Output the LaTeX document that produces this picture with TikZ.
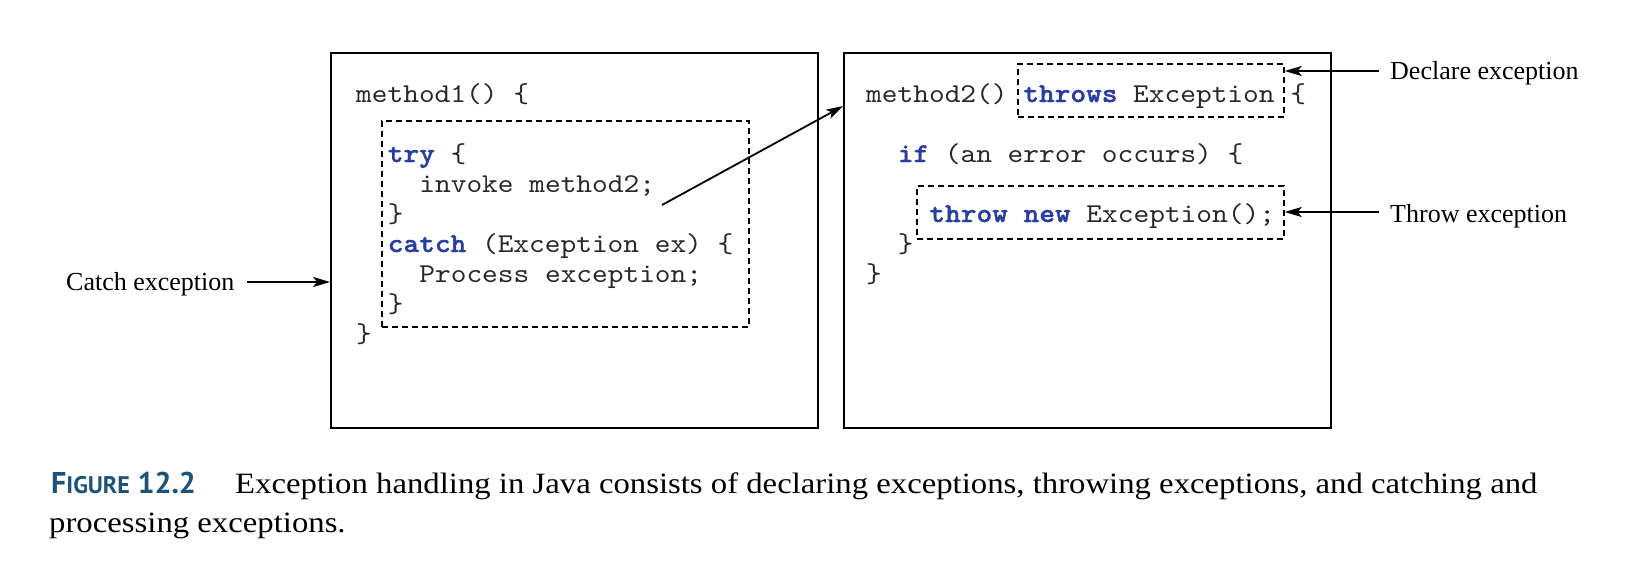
\documentclass[tikz,border=0pt]{standalone}
\usepackage{fontspec}
\setmainfont{Liberation Serif}
\setmonofont[Extension=.otf,FakeStretch=1.1,BoldFont=lmmonolt10-bold,BoldFeatures={FakeBold=1.3}]{lmmono10-regular}
\newfontfamily\capfont{PT Sans}
\newfontfamily\capserif[FakeStretch=1.11]{Liberation Serif}
\usetikzlibrary{arrows.meta}
\definecolor{kwblue}{RGB}{40,62,160}
\definecolor{codegray}{RGB}{40,40,40}
\definecolor{capblue}{RGB}{28,84,120}
\newcommand{\kw}[1]{{\bfseries\color{kwblue}#1}}
\begin{document}
\begin{tikzpicture}[x=1pt,y=-1pt,
  code/.style={anchor=base west,inner sep=0pt,text=codegray,font=\ttfamily\fontsize{27.2}{30}\selectfont},
  lbl/.style={anchor=base west,inner sep=0pt,font=\fontsize{26}{30}\selectfont},
  mainbox/.style={draw,line width=1.8pt,inner sep=0pt},
  dashbox/.style={draw,line width=1.4pt,dash pattern=on 6pt off 4pt,inner sep=0pt},
  arr/.style={line width=1.8pt,-{Stealth[length=17pt,width=10pt,inset=4pt]}}]
\useasboundingbox (0,0) rectangle (1640,573);
% main boxes
\node[mainbox,minimum width=487pt,minimum height=375pt] (box1) at (574.5,240.5) {};
\node[mainbox,minimum width=487pt,minimum height=375pt] (box2) at (1087.5,240.5) {};
% dashed boxes
\node[dashbox,minimum width=367pt,minimum height=206pt] (trybox) at (565.5,224) {};
\node[dashbox,minimum width=266pt,minimum height=53pt] (thrsbox) at (1151,90.5) {};
\node[dashbox,minimum width=367pt,minimum height=53pt] (thrwbox) at (1100.5,212.5) {};
% left code
\node[code] (m1) at (356,102) {method1() \{};
\node[code] (try) at (387.6,162) {\kw{try} \{};
\node[code] (inv) at (419.2,192) {invoke method2;};
\node[code] (c1) at (387.6,222) {\}};
\node[code] (catch) at (387.6,252) {\kw{catch} (Exception ex) \{};
\node[code] (proc) at (419.2,282) {Process exception;};
\node[code] (c2) at (387.6,312) {\}};
\node[code] (c3) at (356,342) {\}};
% right code
\node[code] (m2) at (866,102) {method2() \kw{throws} Exception \{};
\node[code] (ifl) at (897.6,162) {\kw{if} (an error occurs) \{};
\node[code] (thr) at (929.2,222) {\kw{throw new} Exception();};
\node[code] (c4) at (897.6,252) {\}};
\node[code] (c5) at (866,282) {\}};
% labels
\node[lbl] (decl) at (1390,79) {Declare exception};
\node[lbl] (thrl) at (1390,222) {Throw exception};
\node[lbl] (catl) at (66,290) {Catch exception};
% arrows
\coordinate (declarr) at (1379,71);
\coordinate (thrarr) at (1379,212);
\coordinate (catarr) at (247,282);
\coordinate (invarr) at (662,205);
\coordinate (m2arr) at (843,106);
\draw[arr] (declarr) -- (thrsbox.east |- declarr);
\draw[arr] (thrarr) -- (thrwbox.east |- thrarr);
\draw[arr] (catarr) -- (box1.west |- catarr);
\draw[arr] (invarr) -- (box2.west |- m2arr);
% caption
\node[anchor=base west,inner sep=0pt,text=capblue,font=\capfont\bfseries] (fig) at (51,493)
  {\fontsize{30}{36}\selectfont F\fontsize{24}{36}\selectfont IGURE\fontsize{30}{36}\selectfont\ 12.2};
\node[anchor=base west,inner sep=0pt,font=\capserif\fontsize{29.5}{36}\selectfont] (cap1) at (235,493)
  {Exception handling in Java consists of declaring exceptions, throwing exceptions, and catching and};
\node[anchor=base west,inner sep=0pt,font=\capserif\fontsize{29.5}{36}\selectfont] (cap2) at (49,532)
  {processing exceptions.};
\end{tikzpicture}
\end{document}
